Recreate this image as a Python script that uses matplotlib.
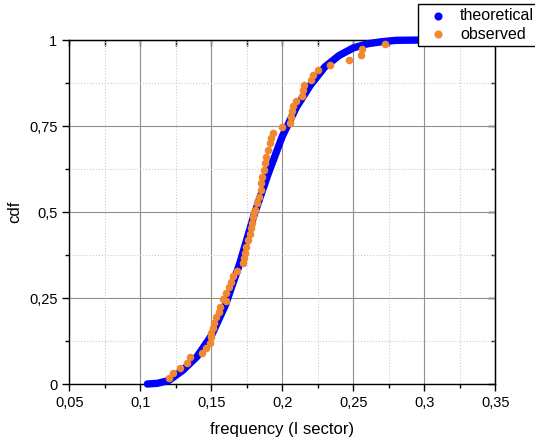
import matplotlib.pyplot as plt
from matplotlib.ticker import MultipleLocator

plt.rcParams['font.family'] = ['Liberation Sans', 'DejaVu Sans']

# theoretical cdf
theo_x = [0.105, 0.112, 0.12, 0.13, 0.14, 0.15, 0.16, 0.17, 0.18, 0.19, 0.2,
          0.21, 0.22, 0.23, 0.24, 0.25, 0.26, 0.27, 0.28, 0.30, 0.35]
theo_y = [0.0, 0.002, 0.01, 0.04, 0.08, 0.14, 0.23, 0.35, 0.49, 0.61, 0.72,
          0.805, 0.87, 0.922, 0.955, 0.977, 0.989, 0.995, 0.999, 1.0, 1.0]

# observed points
obs_x = [0.1203, 0.1231, 0.1283, 0.133, 0.1349, 0.1431, 0.1466, 0.1489, 0.1497,
         0.1501, 0.1513, 0.1518, 0.1532, 0.1555, 0.156, 0.1602,
         0.1583, 0.1607, 0.1625, 0.1642, 0.1653, 0.1684, 0.1724, 0.1731,
         0.1736, 0.1743, 0.1759, 0.1771, 0.1783, 0.179, 0.1794, 0.1801,
         0.1806, 0.1822, 0.1836, 0.1848, 0.1853, 0.186, 0.1869, 0.1876,
         0.1888, 0.1899, 0.1911, 0.1923, 0.1935, 0.1998, 0.2052,
         0.2064, 0.2071, 0.2075, 0.2094, 0.2141, 0.2146, 0.2153, 0.2205,
         0.2216, 0.2251, 0.2333, 0.2469, 0.2556, 0.2563, 0.272]
obs_y = [0.0166, 0.031, 0.0456, 0.062, 0.0776, 0.091, 0.1055, 0.12, 0.1357,
         0.147, 0.162, 0.176, 0.194, 0.21, 0.225, 0.241,
         0.246, 0.2636, 0.281, 0.297, 0.314, 0.328, 0.351, 0.365,
         0.382, 0.397, 0.419, 0.436, 0.4526, 0.469, 0.486, 0.501,
         0.506, 0.525, 0.5445, 0.564, 0.583, 0.603, 0.622, 0.6415,
         0.661, 0.68, 0.6997, 0.714, 0.7306, 0.748, 0.76,
         0.777, 0.7936, 0.808, 0.8227, 0.837, 0.8547, 0.869, 0.8837,
         0.898, 0.9128, 0.927, 0.9419, 0.9564, 0.973, 0.9875]

xticks = [0.05, 0.1, 0.15, 0.2, 0.25, 0.3, 0.35]
xticklabels = ['0,05', '0,1', '0,15', '0,2', '0,25', '0,3', '0,35']
yticks = [0, 0.25, 0.5, 0.75, 1]
yticklabels = ['0', '0,25', '0,5', '0,75', '1']

blue = '#0000FF'
orange = '#F08830'

fig = plt.figure(figsize=(5.35, 4.42), dpi=100)
ax = fig.add_axes([69.3 / 535, 1 - 384 / 442, (495.3 - 69.3) / 535, (384 - 40) / 442])

ax.plot(theo_x, theo_y, color=blue, lw=5.3, solid_capstyle='round',
        solid_joinstyle='round', clip_on=False, zorder=3)
ax.scatter(obs_x, obs_y, s=30, color=orange, zorder=4, clip_on=False,
           linewidths=0)

ax.set_xlim(0.05, 0.35)
ax.set_ylim(0, 1)
ax.set_xticks(xticks)
ax.set_xticklabels(xticklabels)
ax.set_yticks(yticks)
ax.set_yticklabels(yticklabels)
ax.xaxis.set_minor_locator(MultipleLocator(0.025))
ax.yaxis.set_minor_locator(MultipleLocator(0.125))
ax.tick_params(which='major', direction='out', length=5, width=1, labelsize=10.5, pad=3.5)
ax.tick_params(which='minor', direction='out', length=3, width=1)
ax.grid(which='major', color='#909090', lw=0.8, ls='-')
ax.grid(which='minor', color='#cccccc', lw=0.8, ls=':')
ax.set_axisbelow(True)
for s in ax.spines.values():
    s.set_linewidth(1.0)

# inward ticks on top and right
top = ax.secondary_xaxis('top')
top.set_xticks(xticks)
top.xaxis.set_minor_locator(MultipleLocator(0.025))
top.tick_params(which='both', direction='in', length=4, width=1, labeltop=False)
right = ax.secondary_yaxis('right')
right.set_yticks(yticks)
right.yaxis.set_minor_locator(MultipleLocator(0.125))
right.tick_params(which='major', direction='in', length=5, width=1, labelright=False)
right.tick_params(which='minor', direction='in', length=3, width=1)

ax.set_xlabel('frequency (I sector)', fontsize=12, labelpad=9)
ax.set_ylabel('cdf', fontsize=12, labelpad=5)

h1 = ax.scatter([], [], s=34, color=blue, linewidths=0)
h2 = ax.scatter([], [], s=34, color=orange, linewidths=0)
leg = fig.legend([h1, h2], ['theoretical', 'observed'], loc='upper left',
                 bbox_to_anchor=(418 / 535, 1 - 4 / 442), fontsize=11.5,
                 frameon=True, fancybox=False, edgecolor='black', framealpha=1,
                 borderaxespad=0, borderpad=0.28, labelspacing=0.2,
                 handletextpad=0.45, handlelength=1.9)
leg.get_frame().set_linewidth(1.0)

fig.savefig('out.png', dpi=100)
